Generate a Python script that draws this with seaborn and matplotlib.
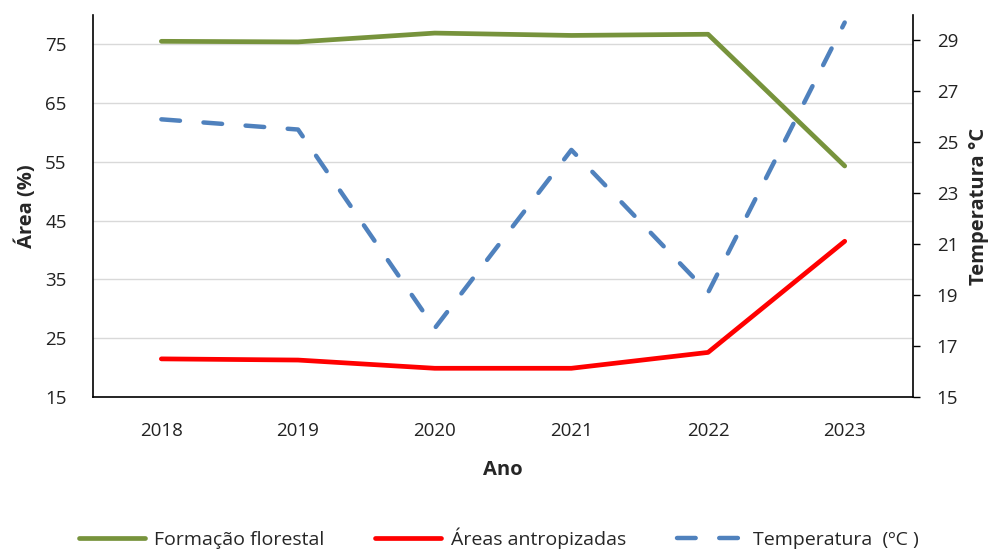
import matplotlib
matplotlib.use("Agg")
import matplotlib.pyplot as plt
import seaborn as sns
import pandas as pd
from matplotlib.lines import Line2D

years = ["2018", "2019", "2020", "2021", "2022", "2023"]
formacao = [75.5, 75.4, 76.9, 76.5, 76.7, 54.3]
antropizadas = [21.5, 21.3, 19.9, 19.9, 22.6, 41.5]
temperatura = [25.9, 25.5, 17.7, 24.7, 19.1, 29.7]
left_ticks = [15, 25, 35, 45, 55, 65, 75]
right_ticks = [15, 17, 19, 21, 23, 25, 27, 29]

sns.set_theme(style="white")
plt.rcParams['font.family'] = ['Open Sans', 'DejaVu Sans']

df = pd.DataFrame({"pos": range(len(years)), "formacao": formacao,
                   "antropizadas": antropizadas, "temperatura": temperatura})

fig = plt.figure(figsize=(9.97, 5.5), dpi=100)
ax = fig.add_axes([0.0933, 0.278, 0.8225, 0.695])

green = "#77933C"
red = "#FF0000"
blue = "#4F81BD"
dash = (0, (4.2, 5.3))

sns.lineplot(data=df, x="pos", y="formacao", ax=ax, color=green, linewidth=3.4)
sns.lineplot(data=df, x="pos", y="antropizadas", ax=ax, color=red, linewidth=3.4)
ax.set_ylim(15, 80)
ax.set_xlim(-0.5, len(years) - 0.5)
ax.set_yticks(left_ticks)
ax.set_xticks(range(len(years)))
ax.set_xticklabels(years)
ax.yaxis.grid(True, color="#D9D9D9", linewidth=1)
ax.set_axisbelow(True)
ax.tick_params(axis="both", length=0, labelsize=13.5, colors="#222222", pad=19)
ax.tick_params(axis="x", pad=18)
ax.set_xlabel("Ano", fontsize=14.5, fontweight="bold", labelpad=14)
ax.set_ylabel("Área (%)", fontsize=14.5, fontweight="bold", labelpad=6)
for s in ["left", "bottom"]:
    ax.spines[s].set_color("black")
    ax.spines[s].set_linewidth(1.2)
ax.spines["top"].set_visible(False)
ax.spines["right"].set_visible(False)

ax2 = ax.twinx()
sns.lineplot(data=df, x="pos", y="temperatura", ax=ax2, color=blue,
             linewidth=3.2, linestyle=dash, dash_capstyle="round")
ax2.set_ylim(15, 30)
ax2.set_yticks(right_ticks)
ax2.set_xlim(-0.5, len(years) - 0.5)
ax2.tick_params(axis="y", length=5, width=1, labelsize=13.5, colors="#222222", pad=12)
ax2.tick_params(axis="y", color="black")
ax2.set_ylabel("Temperatura °C", fontsize=14.5, fontweight="bold", labelpad=8)
ax2.spines["right"].set_color("black")
ax2.spines["right"].set_linewidth(1.2)
ax2.spines["top"].set_visible(False)
ax2.spines["left"].set_visible(False)
ax2.spines["bottom"].set_visible(False)
ax2.grid(False)

handles = [Line2D([], [], color=green, linewidth=3.4),
           Line2D([], [], color=red, linewidth=3.4),
           Line2D([], [], color=blue, linewidth=3.2, linestyle=dash,
                  dash_capstyle="round")]
labels = ["Formação florestal", "Áreas antropizadas", "Temperatura  (ºC )"]
fig.legend(handles, labels, loc="center", bbox_to_anchor=(0.5, 0.022), ncol=3,
           frameon=False, fontsize=14, handlelength=3.4, columnspacing=2.6,
           handletextpad=0.5)

fig.savefig("out.png", dpi=100)
